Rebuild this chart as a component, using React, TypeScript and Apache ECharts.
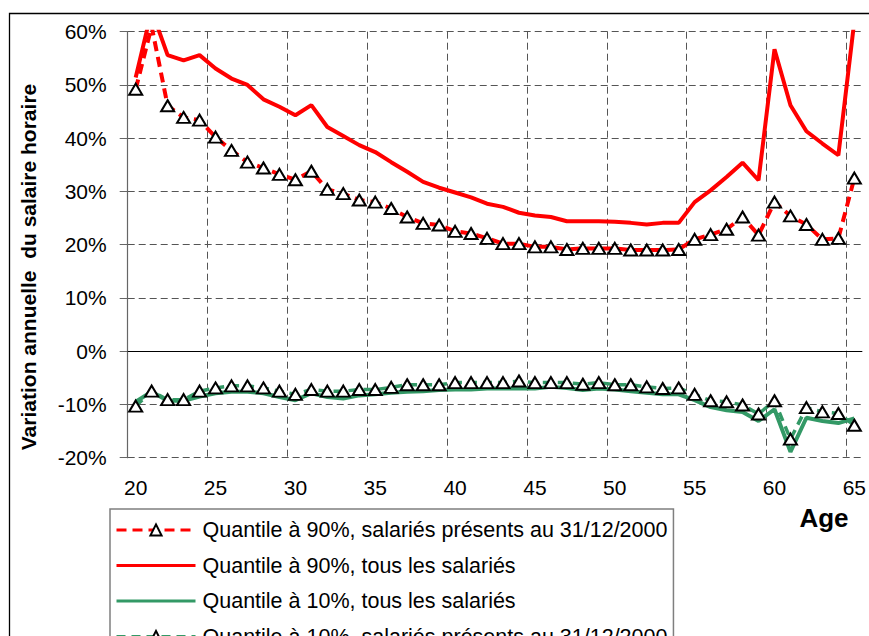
import React, { useEffect, useRef } from "react";
import * as echarts from "echarts";

const ages = [
  "20", "21", "22", "23", "24", "25", "26", "27", "28", "29",
  "30", "31", "32", "33", "34", "35", "36", "37", "38", "39",
  "40", "41", "42", "43", "44", "45", "46", "47", "48", "49",
  "50", "51", "52", "53", "54", "55", "56", "57", "58", "59",
  "60", "61", "62", "63", "64", "65",
];

const q90Present = [
  49.2, 61, 46.1, 43.9, 43.4, 40.2, 37.7, 35.5, 34.4, 33.2,
  32.2, 33.8, 30.4, 29.6, 28.4, 28.0, 26.8, 25.2, 24.0, 23.7,
  22.5, 22.1, 21.2, 20.2, 20.2, 19.6, 19.6, 19.1, 19.3, 19.3,
  19.3, 19.0, 19.0, 19.0, 19.1, 21.0, 21.9, 22.9, 25.2, 21.8,
  28.0, 25.4, 23.8, 21.0, 21.2, 32.5,
];

const q90All = [
  51.4, 64, 55.6, 54.6, 55.6, 53.1, 51.2, 50.0, 47.3, 45.9,
  44.3, 46.2, 42.1, 40.4, 38.7, 37.4, 35.5, 33.7, 31.8, 30.7,
  29.8, 28.9, 27.7, 27.1, 26.0, 25.5, 25.2, 24.4, 24.4, 24.4,
  24.3, 24.1, 23.8, 24.1, 24.1, 28.0, 30.2, 32.7, 35.4, 32.1,
  56.7, 46.2, 41.3, 39.0, 36.8, 62,
];

const q10All = [
  -9.5, -7.6, -9.3, -9.3, -8.5, -7.9, -7.6, -7.6, -7.9, -8.6,
  -9.2, -7.9, -8.6, -8.9, -8.3, -8.1, -7.8, -7.6, -7.5, -7.3,
  -7.2, -7.2, -7.0, -7.0, -7.0, -7.0, -6.7, -6.9, -7.3, -7.0,
  -7.2, -7.5, -7.8, -8.1, -8.1, -9.2, -10.5, -11.1, -11.4, -13.1,
  -10.9, -18.9, -12.5, -13.1, -13.5, -12.6,
];

const q10Present = [
  -10.3, -7.5, -9.1, -9.1, -7.5, -6.9, -6.5, -6.5, -6.9, -7.5,
  -8.1, -7.2, -7.5, -7.5, -7.2, -7.2, -6.8, -6.3, -6.3, -6.3,
  -5.9, -5.9, -5.9, -5.9, -5.6, -5.9, -5.9, -5.9, -6.2, -5.9,
  -6.3, -6.3, -6.7, -7.0, -6.9, -8.1, -9.3, -9.5, -10.1, -11.8,
  -9.3, -16.5, -10.6, -11.4, -11.7, -13.9,
];

const seriesNames = [
  "Quantile à 90%, salariés présents au 31/12/2000",
  "Quantile à 90%, tous les salariés",
  "Quantile à 10%, tous les salariés",
  "Quantile à 10%, salariés présents au 31/12/2000",
];

const yTitle = "Variation annuelle  du salaire horaire";
const xTitle = "Age";

export default function App() {
  const ref = useRef<HTMLDivElement>(null);

  useEffect(() => {
    const chart = echarts.init(ref.current as HTMLDivElement, null, { renderer: "svg" });
    const font = "'Liberation Sans', Arial, Helvetica, sans-serif";
    const red = "#FF0000";
    const green = "#339966";
    const gridDash = { color: "#555", type: [7, 4], width: 1 };

    chart.setOption({
      animation: false,
      backgroundColor: "#fff",
      grid: { left: 127.7, top: 31.7, right: 5.3, bottom: 178.3, containLabel: false },
      xAxis: {
        type: "category",
        data: ages,
        boundaryGap: true,
        axisLine: { show: false },
        axisTick: { show: false },
        axisLabel: {
          interval: (i: number) => i % 5 === 0,
          fontSize: 21,
          fontFamily: font,
          color: "#000",
          margin: 19,
        },
        splitLine: {
          show: true,
          interval: (i: number) => i % 5 === 0 && i > 0,
          lineStyle: gridDash,
        },
      },
      yAxis: {
        type: "value",
        min: -20,
        max: 60,
        interval: 10,
        axisLine: { show: true, lineStyle: { color: "#666", width: 1.2 } },
        axisTick: { show: true, length: 8, lineStyle: { color: "#666" } },
        axisLabel: {
          formatter: "{value}%",
          fontSize: 21,
          fontFamily: font,
          color: "#000",
          margin: 21,
        },
        splitLine: { show: true, lineStyle: gridDash },
      },
      legend: {
        orient: "vertical",
        left: 110,
        top: 509,
        height: 200,
        padding: [10, 6, 9, 5],
        itemWidth: 79,
        itemHeight: 14,
        itemGap: 13.5,
        backgroundColor: "#fff",
        borderColor: "#7f7f7f",
        borderWidth: 1.5,
        selectedMode: false,
        lineStyle: { width: 3 },
        textStyle: { fontFamily: font, fontSize: 21.5, color: "#000", lineHeight: 22, padding: [0, 0, 0, 2] },
        data: [
          { name: seriesNames[0] },
          { name: seriesNames[1], itemStyle: { opacity: 0 } },
          { name: seriesNames[2], itemStyle: { opacity: 0 } },
          { name: seriesNames[3] },
        ],
      },
      graphic: [
        {
          type: "rect",
          silent: true,
          z: -10,
          shape: { x: 9.5, y: 13.5, width: 900, height: 700 },
          style: { fill: "none", stroke: "#000", lineWidth: 1.3 },
        },
        {
          type: "text",
          x: 28,
          y: 267,
          rotation: Math.PI / 2,
          style: {
            text: yTitle,
            fontFamily: font,
            fontWeight: "bold",
            fontSize: 21,
            fill: "#000",
            textAlign: "center",
            textVerticalAlign: "middle",
            align: "center",
            verticalAlign: "middle",
          },
        },
        {
          type: "text",
          x: 824,
          y: 518,
          style: {
            text: xTitle,
            fontFamily: font,
            fontWeight: "bold",
            fontSize: 26,
            fill: "#000",
            textAlign: "center",
            textVerticalAlign: "middle",
            align: "center",
            verticalAlign: "middle",
          },
        },
      ],
      series: [
        {
          name: seriesNames[1],
          type: "line",
          data: q90All,
          symbol: "none",
          lineStyle: { color: red, width: 4 },
          itemStyle: { color: red },
        },
        {
          name: seriesNames[2],
          type: "line",
          data: q10All,
          symbol: "none",
          lineStyle: { color: green, width: 4 },
          itemStyle: { color: green },
          markLine: {
            silent: true,
            symbol: "none",
            label: { show: false },
            lineStyle: { color: "#000", type: "solid", width: 1 },
            data: [{ yAxis: 0 }],
          },
        },
        {
          name: seriesNames[0],
          type: "line",
          data: q90Present,
          symbol: "triangle",
          symbolSize: [13, 11],
          showAllSymbol: true,
          lineStyle: { color: red, width: 4, type: [10, 6] },
          itemStyle: { color: "#fff", borderColor: "#000", borderWidth: 2 },
        },
        {
          name: seriesNames[3],
          type: "line",
          data: q10Present,
          symbol: "triangle",
          symbolSize: [13, 11],
          showAllSymbol: true,
          lineStyle: { color: green, width: 3.5, type: [9, 6] },
          itemStyle: { color: "#fff", borderColor: "#000", borderWidth: 2 },
        },
      ],
    });

    return () => chart.dispose();
  }, []);

  return (
    <div
      ref={ref}
      style={{ position: "fixed", left: 0, top: 0, width: 869, height: 636, background: "#fff", overflow: "hidden" }}
    />
  );
}
